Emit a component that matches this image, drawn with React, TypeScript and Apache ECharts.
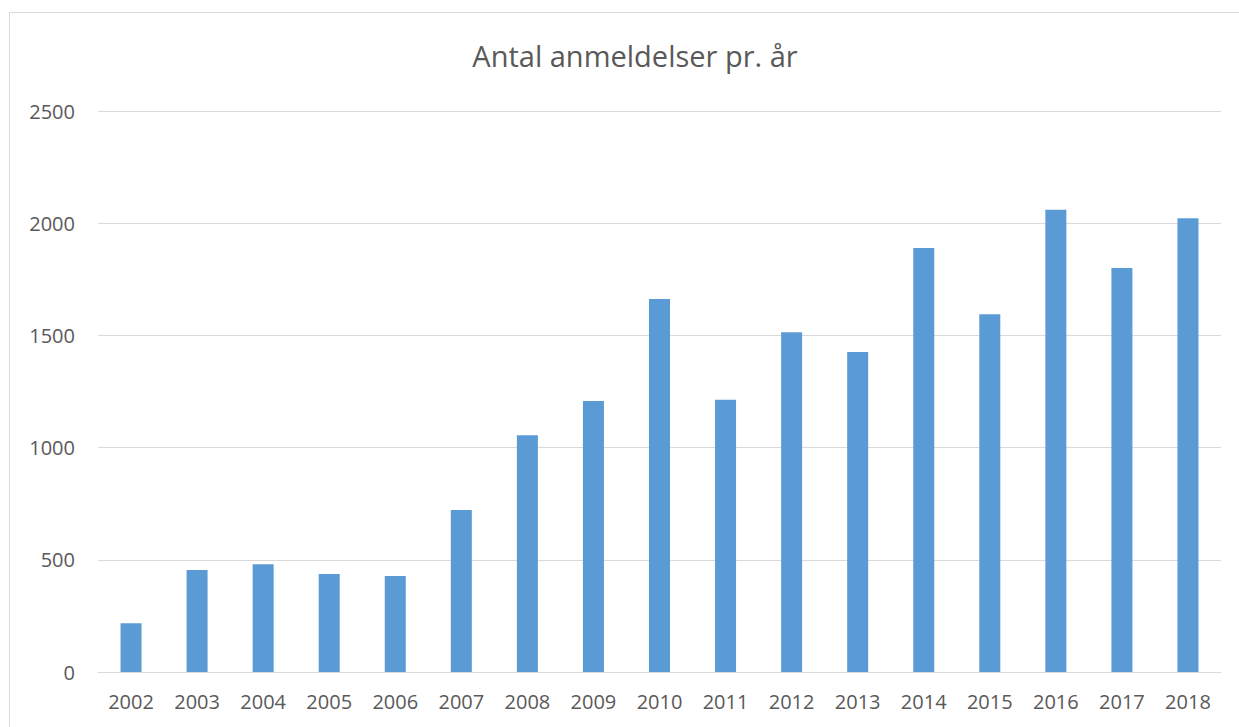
import React, { useEffect, useRef } from "react";
import * as echarts from "echarts";

const years = ["2002","2003","2004","2005","2006","2007","2008","2009","2010","2011","2012","2013","2014","2015","2016","2017","2018"];
const counts = [217, 455, 480, 437, 428, 722, 1055, 1208, 1662, 1213, 1514, 1426, 1889, 1594, 2060, 1800, 2022];
const yTicks = { min: 0, max: 2500, interval: 500 };
const titleText = "Antal anmeldelser pr. år";

export default function App() {
  const ref = useRef<HTMLDivElement>(null);
  useEffect(() => {
    document.body.style.margin = "0";
    const chart = echarts.init(ref.current!, null, { renderer: "svg" });
    chart.setOption({
      animation: false,
      backgroundColor: "#ffffff",
      title: {
        text: titleText,
        left: 630,
        top: 36,
        textAlign: "center",
        textStyle: { fontFamily: "Open Sans", fontSize: 29, fontWeight: "normal", color: "#595959" },
      },
      graphic: [
        {
          type: "rect",
          shape: { x: 9.5, y: 12.5, width: 1240, height: 730 },
          style: { fill: "none", stroke: "#d9d9d9", lineWidth: 1 },
          silent: true,
        },
      ],
      grid: { left: 98, right: 18, top: 111, bottom: 55, containLabel: false },
      xAxis: {
        type: "category",
        data: years,
        axisLine: { show: true, lineStyle: { color: "#d9d9d9", width: 1 } },
        axisTick: { show: false },
        axisLabel: { color: "#595959", fontFamily: "Open Sans", fontSize: 20, margin: 19 },
      },
      yAxis: {
        type: "value",
        min: yTicks.min,
        max: yTicks.max,
        interval: yTicks.interval,
        axisLine: { show: false },
        axisTick: { show: false },
        splitLine: { lineStyle: { color: "#d9d9d9", width: 1 } },
        axisLabel: {
          color: "#595959",
          fontFamily: "Open Sans",
          fontSize: 20,
          margin: 23,
          formatter: (v: number) => String(v),
        },
      },
      series: [
        {
          type: "bar",
          data: counts,
          barWidth: 21,
          itemStyle: { color: "#5b9bd5" },
        },
      ],
    });
    return () => chart.dispose();
  }, []);
  return <div ref={ref} style={{ position: "absolute", left: 0, top: 0, width: 1239, height: 727 }} />;
}
